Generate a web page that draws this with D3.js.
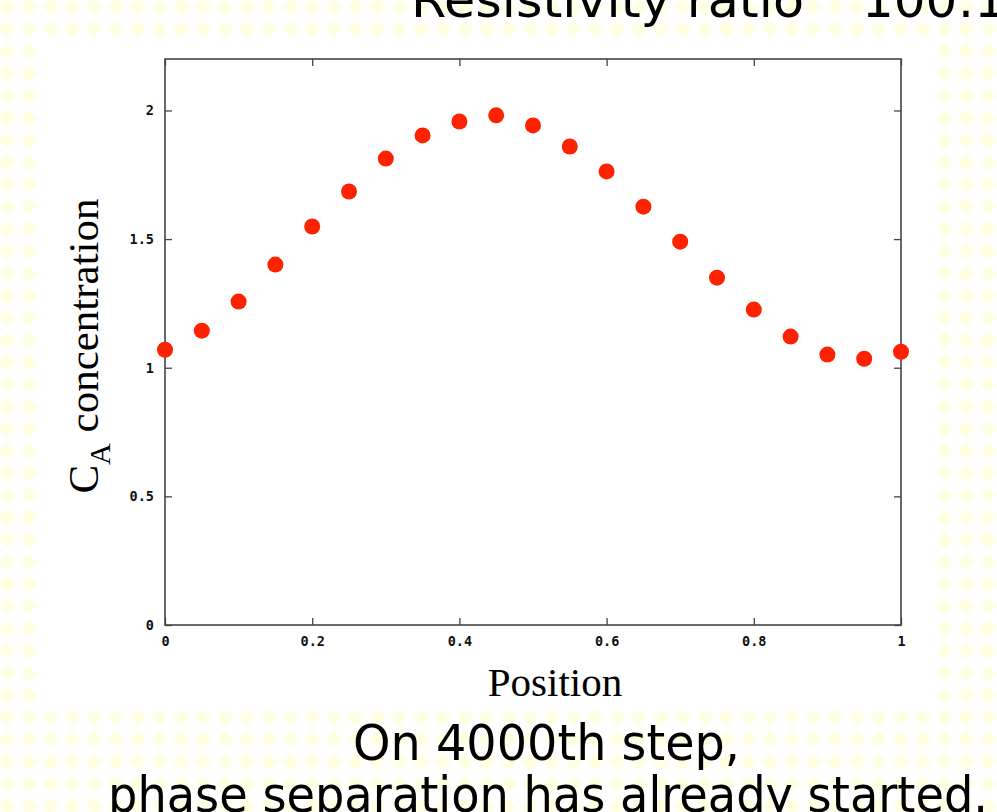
<!DOCTYPE html>
<html><head><meta charset="utf-8">
<script src="https://cdn.jsdelivr.net/npm/d3@7/dist/d3.min.js"></script>
<style>body{margin:0;background:#fff;overflow:hidden}svg{display:block}</style>
</head><body>
<script>
// ---- data ----
const positions = [0,0.05,0.1,0.15,0.2,0.25,0.3,0.35,0.4,0.45,0.5,0.55,0.6,0.65,0.7,0.75,0.8,0.85,0.9,0.95,1.0];
const concentration = [1.070,1.144,1.257,1.401,1.549,1.685,1.813,1.903,1.957,1.981,1.942,1.860,1.763,1.626,1.490,1.350,1.226,1.121,1.051,1.035,1.062];
const xTicks = [0,0.2,0.4,0.6,0.8,1];
const xTickLabels = ["0","0.2","0.4","0.6","0.8","1"];
const yTicks = [0,0.5,1,1.5,2];
const yTickLabels = ["0","0.5","1","1.5","2"];
const titleParts = ["Resistivity ratio","100:1"];
const captionLines = ["On 4000th step,","phase separation has already started."];
const xLabel = "Position";
const yLabelMain = "C", yLabelSub = "A", yLabelRest = " concentration";

const W = 997, H = 812;
const svg = d3.select("body").append("svg").attr("width", W).attr("height", H);
const defs = svg.append("defs");
const chk = defs.append("pattern").attr("id","chk").attr("patternUnits","userSpaceOnUse")
  .attr("width",4).attr("height",4);
chk.append("rect").attr("width",4).attr("height",4).attr("fill","#ffffff");
chk.append("rect").attr("width",2).attr("height",2).attr("fill","#ffffc6");
chk.append("rect").attr("x",2).attr("y",2).attr("width",2).attr("height",2).attr("fill","#ffffc6");
const dia = defs.append("pattern").attr("id","dia").attr("patternUnits","userSpaceOnUse")
  .attr("x",-4).attr("y",-4).attr("width",21.8).attr("height",22.2);
dia.append("rect").attr("width",22).attr("height",23).attr("fill","#fff");
dia.append("polygon").attr("points","11,2.5 19.5,11 11,19.5 2.5,11").attr("fill","url(#chk)");

svg.append("rect").attr("width",W).attr("height",H).attr("fill","url(#dia)");
svg.append("rect").attr("x",40).attr("y",37).attr("width",895).attr("height",675).attr("fill","#fff");

// ---- title (clipped at top) ----
const tt = svg.append("text").attr("font-family","DejaVu Sans, Verdana, sans-serif")
  .attr("font-size",50).attr("fill","#000").attr("y",17);
tt.append("tspan").attr("x",411).attr("textLength",393).attr("lengthAdjust","spacingAndGlyphs").text(titleParts[0]);
tt.append("tspan").attr("x",862).text(titleParts[1]);

// ---- plot ----
const m = {l:165, r:901, t:59, b:625};
const x = d3.scaleLinear().domain([0,1]).range([m.l, m.r]);
const y = d3.scaleLinear().domain([0,2.2]).range([m.b, m.t]);

const tickFont = g => g.selectAll("text").attr("font-family","DejaVu Sans Mono, monospace")
  .attr("font-weight","bold").attr("font-size",13.5).attr("fill","#111");
const tickStyle = g => { g.select(".domain").remove(); g.selectAll("line").attr("stroke","#444").attr("stroke-width",1.3); };

svg.append("g").attr("transform",`translate(0,${m.b})`)
  .call(d3.axisBottom(x).tickValues(xTicks).tickFormat((d,i)=>xTickLabels[i]).tickSize(-7).tickPadding(11))
  .call(tickStyle).call(tickFont);
svg.append("g").attr("transform",`translate(0,${m.t})`)
  .call(d3.axisTop(x).tickValues(xTicks).tickFormat("").tickSize(-7))
  .call(tickStyle);
svg.append("g").attr("transform",`translate(${m.l},0)`)
  .call(d3.axisLeft(y).tickValues(yTicks).tickFormat((d,i)=>yTickLabels[i]).tickSize(-7).tickPadding(11))
  .call(tickStyle).call(tickFont);
svg.append("g").attr("transform",`translate(${m.r},0)`)
  .call(d3.axisRight(y).tickValues(yTicks).tickFormat("").tickSize(-7))
  .call(tickStyle);

svg.append("rect").attr("x",m.l).attr("y",m.t).attr("width",m.r-m.l).attr("height",m.b-m.t)
  .attr("fill","none").attr("stroke","#444").attr("stroke-width",1.6);

svg.append("g").selectAll("circle").data(positions).join("circle")
  .attr("cx",(d)=>x(d)).attr("cy",(d,i)=>y(concentration[i])).attr("r",8)
  .attr("fill","#ff2200");

// ---- axis labels ----
svg.append("text").attr("x",555).attr("y",696).attr("text-anchor","middle")
  .attr("font-family","Liberation Serif, Times New Roman, serif").attr("font-size",41).attr("fill","#000")
  .text(xLabel);
const yl = svg.append("text").attr("transform","translate(98,346) rotate(-90)").attr("text-anchor","middle")
  .attr("font-family","Liberation Serif, Times New Roman, serif").attr("font-size",43).attr("fill","#000");
yl.append("tspan").text(yLabelMain);
yl.append("tspan").attr("font-size",30).attr("dy",12).text(yLabelSub);
yl.append("tspan").attr("dy",-12).text(yLabelRest);

// ---- caption ----
const cap = svg.append("g").attr("font-family","DejaVu Sans, Verdana, sans-serif").attr("font-size",50).attr("fill","#000");
cap.append("text").attr("x",353).attr("y",760).attr("textLength",387).attr("lengthAdjust","spacingAndGlyphs").text(captionLines[0]);
cap.append("text").attr("x",108).attr("y",812).attr("textLength",880).attr("lengthAdjust","spacingAndGlyphs").text(captionLines[1]);
</script>
</body></html>
